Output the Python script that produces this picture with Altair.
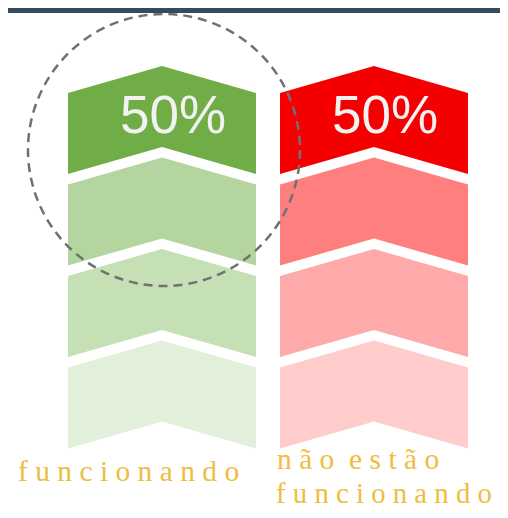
import altair as alt
import pandas as pd

# ---- data ----
categories = ["funcionando", "não estão funcionando"]
values = [50, 50]
label_lines = [["f u n c i o n a n d o"], ["n ã o\u00a0\u00a0e s t ã o", "f u n c i o n a n d o"]]
green_shades = ["#70ad47", "#b4d59f", "#c5e0b4", "#e2efda"]
red_shades = ["#f40000", "#ff7f7f", "#ffaaaa", "#ffcccc"]

# ---- layout (page pixel units) ----
col_left = [68, 280]
col_width = 188
first_top = 66      # peak of first chevron
step = 91.5
notch = 27
side_h = 81
W, H = 492, 502

rows = []
for ci, (cat, shades) in enumerate(zip(categories, [green_shades, red_shades])):
    x0 = col_left[ci]
    xc = x0 + col_width / 2
    x1 = x0 + col_width
    for li, col in enumerate(shades):
        peak = first_top + li * step
        for x, ytop in [(x0, peak + notch), (xc, peak), (x1, peak + notch)]:
            rows.append({"cat": cat, "level": li, "id": f"{ci}-{li}", "x": x,
                         "y": ytop, "y2": ytop + side_h, "color": col})
chev = pd.DataFrame(rows)

xs = alt.Scale(domain=[8, 8 + W], range=[0, W])
ys = alt.Scale(domain=[8, 8 + H], range=[0, H])

band = alt.Chart(pd.DataFrame({"x": [0], "x2": [520], "y": [0], "y2": [13]})).mark_rect(
    color="#344a5f", clip=True
).encode(x=alt.X("x:Q", scale=xs, axis=None), x2="x2:Q",
         y=alt.Y("y:Q", scale=ys, axis=None), y2="y2:Q")

areas = alt.Chart(chev).mark_area(interpolate="linear").encode(
    x=alt.X("x:Q", scale=xs, axis=None),
    y=alt.Y("y:Q", scale=ys, axis=None),
    y2="y2:Q",
    color=alt.Color("color:N", scale=None),
    detail="id:N",
)

pct = pd.DataFrame({
    "x": [col_left[i] + col_width / 2 + 11 for i in range(2)],
    "y": [133, 133],
    "t": [f"{v}%" for v in values],
})
pct_text = alt.Chart(pct).mark_text(
    font="Liberation Sans", fontSize=53, color="#f2f2f2", baseline="alphabetic", align="center"
).encode(x=alt.X("x:Q", scale=xs, axis=None), y=alt.Y("y:Q", scale=ys, axis=None), text="t:N")

lab_rows = [
    {"x": 18, "y": 481, "t": label_lines[0][0], "fs": 29.5},
    {"x": 277, "y": 469, "t": label_lines[1][0], "fs": 29.5},
    {"x": 276, "y": 503, "t": label_lines[1][1], "fs": 28.8},
]
labels = alt.Chart(pd.DataFrame(lab_rows)).mark_text(
    font="Liberation Serif", color="#f0bc42", baseline="alphabetic", align="left"
).encode(x=alt.X("x:Q", scale=xs, axis=None), y=alt.Y("y:Q", scale=ys, axis=None), text="t:N",
         size=alt.Size("fs:Q", scale=None))

circle = alt.Chart(pd.DataFrame({"x": [164], "y": [150]})).mark_point(
    shape="circle", filled=False, size=272 * 272, stroke="#707070",
    strokeWidth=2.5, strokeDash=[9, 6], opacity=1
).encode(x=alt.X("x:Q", scale=xs, axis=None), y=alt.Y("y:Q", scale=ys, axis=None))

chart = alt.layer(band, areas, pct_text, labels, circle).properties(
    width=W, height=H, padding=0, autosize=alt.AutoSizeParams(type="none"),
    background="white"
).configure_view(stroke=None)

chart.save("out.html", embed_options={"renderer": "svg", "actions": False})
